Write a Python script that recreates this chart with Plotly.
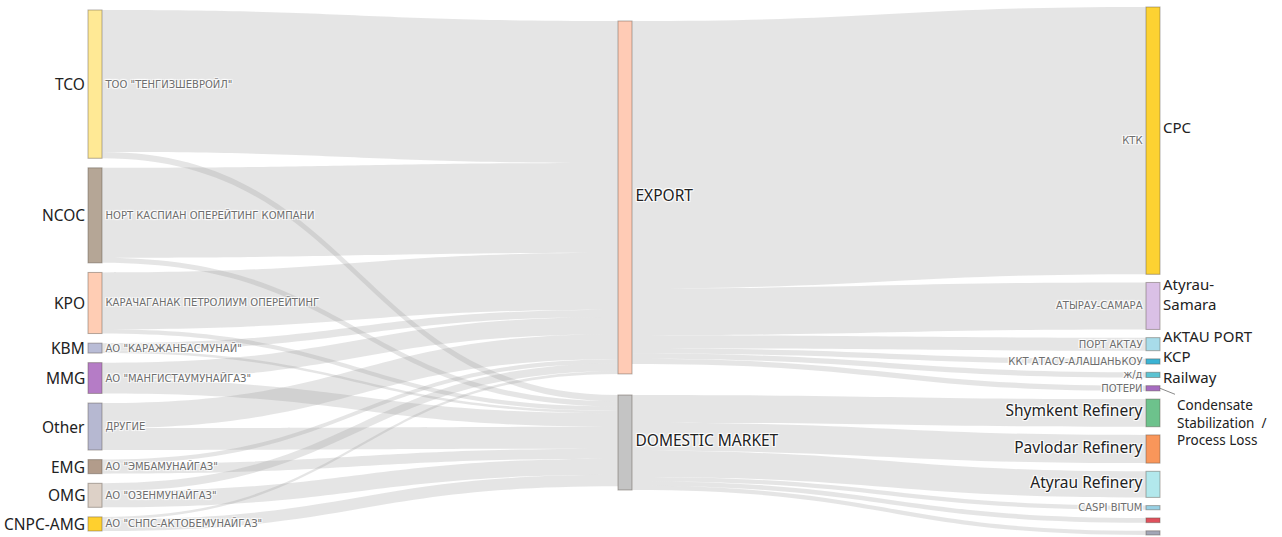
import plotly.graph_objects as go

# ---------------- data (Mt) ----------------
producers_en = ["TCO", "NCOC", "KPO", "KBM", "MMG", "Other", "EMG", "OMG", "CNPC-AMG"]
producers_ru = ['ТОО "ТЕНГИЗШЕВРОЙЛ"', "НОРТ КАСПИАН ОПЕРЕЙТИНГ КОМПАНИ",
                "КАРАЧАГАНАК ПЕТРОЛИУМ ОПЕРЕЙТИНГ", 'АО "КАРАЖАНБАСМУНАЙ"',
                'АО "МАНГИСТАУМУНАЙГАЗ"', "ДРУГИЕ", 'АО "ЭМБАМУНАЙГАЗ"',
                'АО "ОЗЕНМУНАЙГАЗ"', 'АО "СНПС-АКТОБЕМУНАЙГАЗ"']
to_export = [27.2, 17.2, 10.9, 1.4, 3.3, 4.8, 0.8, 1.5, 0.5]
to_domestic = [1.2, 1.0, 0.8, 0.5, 2.6, 4.2, 1.9, 3.1, 2.2]

markets = ["EXPORT", "DOMESTIC MARKET"]

export_dest_ru = ["КТК", "АТЫРАУ-САМАРА", "ПОРТ АКТАУ", "ККТ АТАСУ-АЛАШАНЬКОУ", "ж/д", "ПОТЕРИ"]
export_dest_en = ["CPC", "Atyrau-<br>Samara", "AKTAU PORT", "KCP", "Railway",
                  "Condensate<br>Stabilization  /<br>Process Loss"]
export_volumes = [51.2, 9.0, 2.5, 1.0, 1.0, 1.0]

domestic_dest = ["Shymkent Refinery", "Pavlodar Refinery", "Atyrau Refinery", "CASPI BITUM", "", ""]
domestic_dest_big = [True, True, True, False, False, False]
domestic_volumes = [5.3, 5.4, 5.0, 0.8, 0.9, 0.8]

producer_colors = ["#FFE995", "#B5A696", "#FFCDB4", "#B9BCD6", "#B57CC6",
                   "#B6B8D1", "#B29C8B", "#DDD1C7", "#FFD02E"]
market_colors = ["#FFCBB5", "#C4C4C4"]
export_dest_colors = ["#FDD232", "#DAC0E6", "#A8DCEA", "#3BB3D4", "#5CC3D2", "#A66CC0"]
domestic_dest_colors = ["#6DC28C", "#F9965A", "#B2E8EC", "#98D0E4", "#DF505C", "#A2A6B6"]

# ---------------- layout / style constants ----------------
FIG_W, FIG_H = 1282, 537
PAD = 9
THICK = 14
COL_X_PX = [95, 625, 1153]                      # node centre x of each column
COL_SPAN_PX = [(10, 531), (21, 490), (7, 535)]  # top / bottom of each column
EXPORT_LABEL_DY_PX = [-14, -12, -8, -5, 2]      # label nudges for the right-hand English names

BIG = "<span style=\"font-size:15.5px;color:#222;font-family:'Noto Sans'\">{}</span>"

# ---------------- build nodes ----------------
n_p = len(producers_en)
n_e = len(export_dest_ru)
n_d = len(domestic_dest)
EXP, DOM = n_p, n_p + 1

labels = list(producers_ru) + [BIG.format(m) for m in markets] + list(export_dest_ru) + \
    [BIG.format(t) if b else t for t, b in zip(domestic_dest, domestic_dest_big)]
colors = producer_colors + market_colors + export_dest_colors + domestic_dest_colors

src, tgt, val = [], [], []
for i in range(n_p):
    src += [i, i]
    tgt += [EXP, DOM]
    val += [to_export[i], to_domestic[i]]
for j in range(n_e):
    src.append(EXP); tgt.append(n_p + 2 + j); val.append(export_volumes[j])
for j in range(n_d):
    src.append(DOM); tgt.append(n_p + 2 + n_e + j); val.append(domestic_volumes[j])

n_nodes = len(labels)
inflow = [0.0] * n_nodes
outflow = [0.0] * n_nodes
for s, t, v in zip(src, tgt, val):
    outflow[s] += v
    inflow[t] += v
node_val = [max(a, b) for a, b in zip(inflow, outflow)]

columns = [list(range(0, n_p)), [EXP, DOM], list(range(n_p + 2, n_nodes))]
ky = min((FIG_H - (len(c) - 1) * PAD) / sum(node_val[i] for i in c) for c in columns)

node_x = [0.0] * n_nodes
node_y = [0.0] * n_nodes
for ci, col in enumerate(columns):
    heights = [node_val[i] * ky for i in col]
    top, bottom = COL_SPAN_PX[ci]
    gap = (bottom - top - sum(heights)) / (len(col) - 1)
    y = top
    for i, h in zip(col, heights):
        node_x[i] = COL_X_PX[ci] / FIG_W
        node_y[i] = (y + h / 2) / FIG_H
        y += h + gap

fig = go.Figure(go.Sankey(
    arrangement="fixed",
    node=dict(
        label=labels,
        color=colors,
        x=node_x,
        y=node_y,
        pad=PAD,
        thickness=THICK,
        line=dict(color="rgba(90,80,70,0.45)", width=1),
        hoverinfo="none",
    ),
    link=dict(source=src, target=tgt, value=val,
              color="rgba(150,150,150,0.25)", hoverinfo="none"),
    textfont=dict(family="DejaVu Sans", size=10, color="#6e6e6e"),
))

annotations = []
ann_font = dict(family="Noto Sans", size=15.5, color="#222")
right_font = dict(family="Noto Sans", size=15, color="#222")
# English names to the left of producers
for i in range(n_p):
    annotations.append(dict(
        x=(COL_X_PX[0] - THICK / 2 - 1) / FIG_W, y=1 - node_y[i], xref="paper", yref="paper",
        text=producers_en[i], showarrow=False, xanchor="right", yanchor="middle", font=ann_font))
# English names to the right of export destinations
for j in range(n_e):
    i = n_p + 2 + j
    if j == n_e - 1:
        annotations.append(dict(
            x=(COL_X_PX[2] + THICK / 2) / FIG_W, y=1 - node_y[i], xref="paper", yref="paper",
            text=export_dest_en[j], showarrow=True, arrowhead=0, arrowwidth=1,
            arrowcolor="#8a8a8a", ax=15, ay=6, xanchor="left", yanchor="top",
            align="left", font=dict(family="Noto Sans", size=13.5, color="#222")))
    else:
        annotations.append(dict(
            x=(COL_X_PX[2] + THICK / 2 + 2) / FIG_W,
            y=1 - node_y[i] - EXPORT_LABEL_DY_PX[j] / FIG_H,
            xref="paper", yref="paper", text=export_dest_en[j], borderpad=0,
            showarrow=False, xanchor="left", yanchor="middle", align="left", font=right_font))

fig.update_layout(
    width=FIG_W, height=FIG_H,
    margin=dict(l=0, r=0, t=0, b=0),
    paper_bgcolor="white", plot_bgcolor="white",
    annotations=annotations,
)

fig.write_html("out.html", config={"displayModeBar": False},
               post_script="document.body.style.margin='0';")
